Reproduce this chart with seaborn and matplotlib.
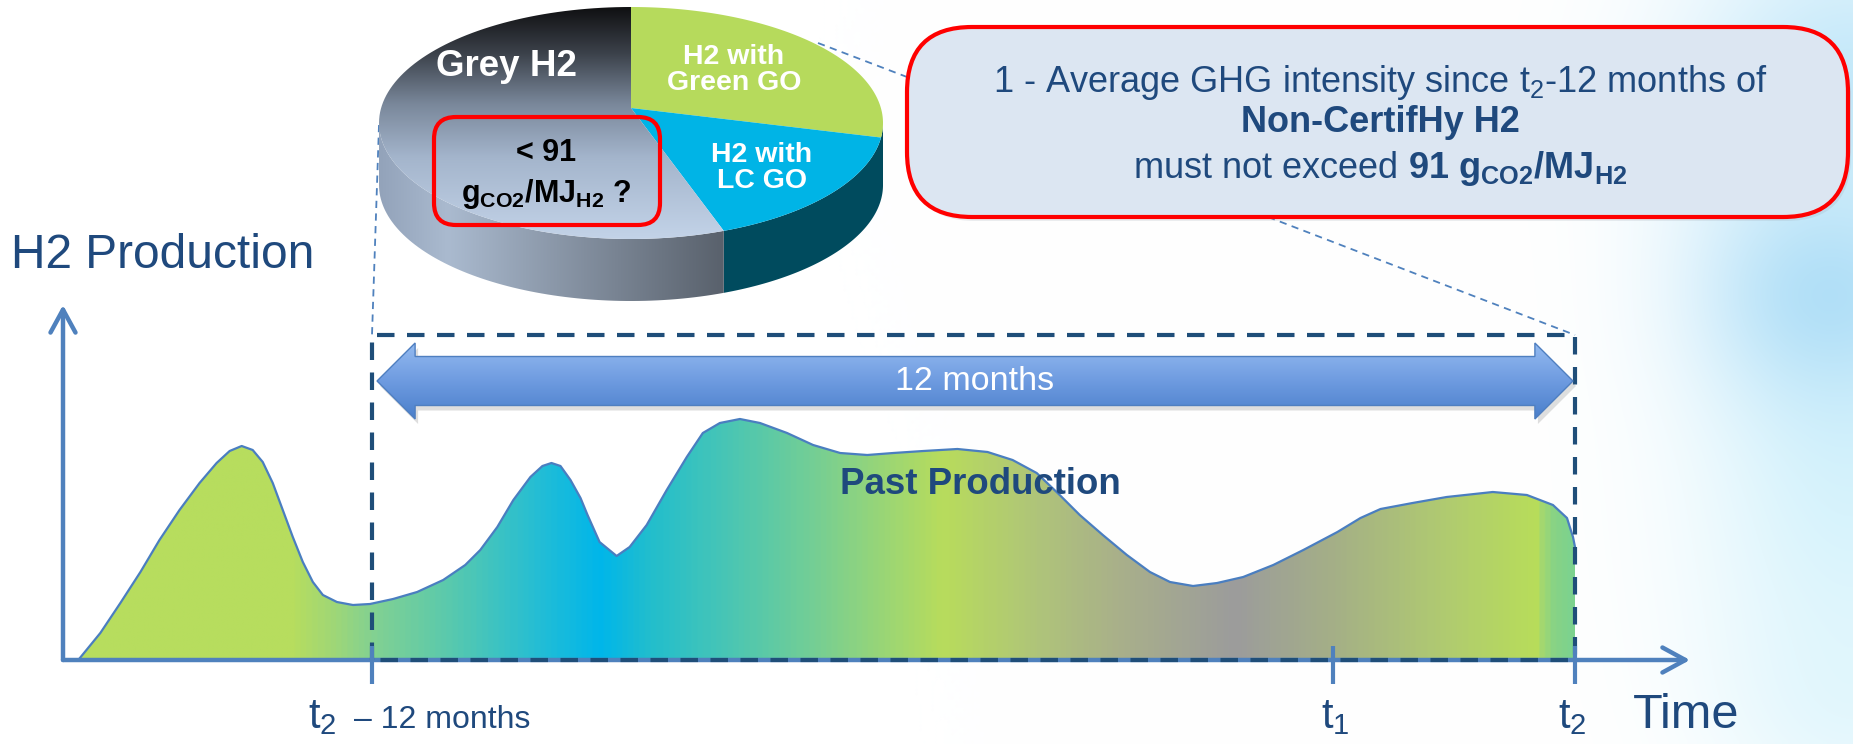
import numpy as np
import matplotlib
matplotlib.use("Agg")
import matplotlib.pyplot as plt
import seaborn as sns
from matplotlib.patches import Polygon, FancyBboxPatch
from matplotlib.colors import LinearSegmentedColormap, to_rgb

# ---------------------------------------------------------------- data
# production curve; months counted from (t2 - 12 months)
months = [-2.93, -2.71, -2.51, -2.31, -2.12, -1.92, -1.72, -1.55, -1.42, -1.30,
          -1.19, -1.09, -0.99, -0.89, -0.79, -0.69, -0.59, -0.49, -0.35, -0.19,
          -0.02, 0.21, 0.45, 0.71, 0.93, 1.08, 1.25, 1.41, 1.58, 1.70,
          1.79, 1.88, 1.98, 2.08, 2.15, 2.27, 2.44, 2.57, 2.74, 2.94,
          3.14, 3.30, 3.47, 3.67, 3.87, 4.14, 4.40, 4.67, 4.94, 5.20,
          5.50, 5.84, 6.14, 6.39, 6.63, 6.86, 7.06, 7.29, 7.53, 7.76,
          7.96, 8.19, 8.43, 8.69, 8.99, 9.29, 9.63, 9.86, 10.06, 10.38,
          10.72, 11.18, 11.52, 11.78, 11.92, 11.98, 12.00]
production = [0.00, 0.27, 0.57, 0.88, 1.20, 1.50, 1.77, 1.97, 2.09, 2.14,
              2.10, 1.98, 1.77, 1.50, 1.23, 0.98, 0.78, 0.65, 0.58, 0.55,
              0.56, 0.61, 0.68, 0.80, 0.95, 1.10, 1.33, 1.60, 1.83, 1.94,
              1.97, 1.94, 1.80, 1.62, 1.45, 1.18, 1.04, 1.13, 1.35, 1.70,
              2.03, 2.27, 2.37, 2.41, 2.37, 2.27, 2.15, 2.07, 2.05, 2.07,
              2.09, 2.11, 2.08, 2.00, 1.87, 1.65, 1.45, 1.25, 1.05, 0.88,
              0.78, 0.74, 0.77, 0.83, 0.95, 1.10, 1.28, 1.42, 1.51, 1.57,
              1.63, 1.68, 1.65, 1.55, 1.42, 1.23, 1.13]

tick_months = [0.0, 9.59, 12.0]
window_months = 12

# pie: shares in clockwise order starting at 12 o'clock
pie_labels = ["H2 with\nGreen GO", "H2 with\nLC GO", "Grey H2"]
pie_shares = [27, 17, 56]

NAVY = "#1F497D"
AXIS_BLUE = "#4F81BD"

# ---------------------------------------------------------------- style
sns.set_theme(style="white")
plt.rcParams["font.family"] = ["Liberation Sans", "DejaVu Sans"]
plt.rcParams["mathtext.fontset"] = "custom"
plt.rcParams["mathtext.rm"] = "Liberation Sans"
plt.rcParams["mathtext.it"] = "Liberation Sans:italic"
plt.rcParams["mathtext.bf"] = "Liberation Sans:bold"
plt.rcParams["mathtext.default"] = "regular"

W, H = 1853, 744
fig = plt.figure(figsize=(W / 100, H / 100), dpi=100)
fig.patch.set_facecolor("white")

# ---------------------------------------------------------------- background glow
ax_bg = fig.add_axes([0, 0, 1, 1])
ax_bg.set_axis_off()
yy, xx = np.mgrid[0:H:4, 0:W:4].astype(float)
bg = np.ones(xx.shape + (3,))


def glow(img, cx, cy, sx, sy, color, k):
    g = k * np.exp(-0.5 * (((xx - cx) / sx) ** 2 + ((yy - cy) / sy) ** 2))
    c = np.array(to_rgb(color))
    return img * (1 - g[..., None]) + c * g[..., None]


bg = glow(bg, 1853, 470, 110, 170, "#C9EFFB", 0.75)
bg = glow(bg, 1830, 290, 90, 80, "#A4D9F6", 0.8)
bg = glow(bg, 1853, 80, 120, 110, "#B3E2F8", 0.75)
bg = glow(bg, 1853, 700, 90, 80, "#D5F3FC", 0.5)
ax_bg.imshow(bg, extent=[0, W, H, 0], aspect="auto", interpolation="bilinear")
ax_bg.set_xlim(0, W)
ax_bg.set_ylim(H, 0)

# ---------------------------------------------------------------- chart axes
PX_MONTH, PX_UNIT = 100.25, 100.0
ORIGIN_PX, ZERO_PX = 372, 660
x0_px, x1_px, ytop_px = 63, 1690, 305
t_min = (x0_px - ORIGIN_PX) / PX_MONTH
t_max = (x1_px - ORIGIN_PX) / PX_MONTH
p_max = (ZERO_PX - ytop_px) / PX_UNIT
ax = fig.add_axes([x0_px / W, (H - ZERO_PX) / H, (x1_px - x0_px) / W, (ZERO_PX - ytop_px) / H])
ax.patch.set_alpha(0)
ax.set_axis_off()

# gradient fill under the production curve
fill_stops = [(-2.93, "#B7DD5E"), (-0.82, "#B7DD5E"), (-0.42, "#A0D776"), (0.0, "#82D192"),
              (0.78, "#58C9AE"), (1.68, "#22BDD6"), (2.27, "#00B6EA"), (2.77, "#22BECD"),
              (3.47, "#45C5B7"), (4.47, "#78CF92"), (5.70, "#B8DC5C"), (6.66, "#AFC47A"),
              (7.46, "#A9B08A"), (8.63, "#9C9C9C"), (9.56, "#A4AE88"), (10.75, "#B0CB70"),
              (11.66, "#B8DD5A"), (11.70, "#A5D86E"), (11.83, "#88D385"), (12.0, "#7DD28E")]
span = months[-1] - months[0]
fill_cmap = LinearSegmentedColormap.from_list(
    "prod", [((t - months[0]) / span, c) for t, c in fill_stops])
area = ax.fill_between(months, production, 0, facecolor="none", edgecolor="none")
im = ax.imshow(np.linspace(0, 1, 800)[None, :], extent=[months[0], months[-1], 0, max(production)],
               cmap=fill_cmap, aspect="auto", origin="lower", interpolation="bilinear", zorder=1)
im.set_clip_path(area.get_paths()[0], transform=ax.transData)
sns.lineplot(x=months, y=production, ax=ax, color="#4A7EC0", lw=1.6,
             estimator=None, sort=False, legend=False, zorder=2)

# axes arrows
arrow_kw = dict(arrowstyle="->,head_length=0.55,head_width=0.3", lw=3.2, color=AXIS_BLUE,
                mutation_scale=30, shrinkA=0, shrinkB=0)
ax.annotate("", xy=(t_max, 0), xytext=(t_min, 0), arrowprops=arrow_kw, annotation_clip=False, zorder=3)
ax.annotate("", xy=(t_min, p_max), xytext=(t_min, 0), arrowprops=arrow_kw, annotation_clip=False, zorder=3)

# tick marks
for t in tick_months:
    ax.plot([t, t], [0.14, -0.24], color=AXIS_BLUE, lw=3, clip_on=False,
            solid_capstyle="butt", zorder=5)

# 12-month dashed window
box_top = (ZERO_PX - 335) / PX_UNIT
ax.plot([0, 0, window_months, window_months, 0], [0, box_top, box_top, 0, 0],
        color="#1F4E79", lw=3, dashes=(4.2, 3.0), clip_on=False, zorder=4)

# double-headed "12 months" arrow with vertical gradient
bx0, bx1, by = 0.05, 11.98, (ZERO_PX - 381) / PX_UNIT
bh, hh, hl = 0.245, 0.38, 0.38
arrow_pts = [(bx0, by), (bx0 + hl, by + hh), (bx0 + hl, by + bh), (bx1 - hl, by + bh),
             (bx1 - hl, by + hh), (bx1, by), (bx1 - hl, by - hh), (bx1 - hl, by - bh),
             (bx0 + hl, by - bh), (bx0 + hl, by - hh)]
shadow = Polygon([(x + 0.03, y - 0.05) for x, y in arrow_pts], closed=True,
                 fc="#7F7F7F", ec="none", alpha=0.25, zorder=5)
ax.add_patch(shadow)
arrow_poly = Polygon(arrow_pts, closed=True, fc="none", ec="#4F7FC0", lw=1.0, zorder=7)
ax.add_patch(arrow_poly)
arrow_cmap = LinearSegmentedColormap.from_list("arr", ["#4A7FCB", "#6E9BE0", "#93BAF0"])
aim = ax.imshow(np.linspace(0, 1, 200)[:, None], extent=[bx0, bx1, by - hh, by + hh],
                cmap=arrow_cmap, aspect="auto", origin="lower", interpolation="bilinear", zorder=6)
aim.set_clip_path(arrow_poly)
ax.text((bx0 + bx1) / 2, by, "12 months", color="white", fontsize=24.5,
        ha="center", va="center", zorder=8)

ax.text(6.07, (ZERO_PX - 484) / PX_UNIT, "Past Production", color=NAVY, fontsize=26.4,
        fontweight="bold", ha="center", va="center", zorder=8)

ax.set_xlim(t_min, t_max)
ax.set_ylim(0, p_max)

# ---------------------------------------------------------------- overlay (pixel coordinates)
ov = fig.add_axes([0, 0, 1, 1])
ov.patch.set_alpha(0)
ov.set_axis_off()

ov.text(11, 268, "H2 Production", color=NAVY, fontsize=34.5, ha="left", va="baseline")
ov.text(1633, 728, "Time", color=NAVY, fontsize=35, ha="left", va="baseline")
ov.text(308, 728, "t$_2$", color=NAVY, fontsize=30, ha="left", va="baseline")
ov.text(354, 728, "\u2013 12 months", color=NAVY, fontsize=23, ha="left", va="baseline")
ov.text(1321, 728, "t$_1$", color=NAVY, fontsize=30, ha="left", va="baseline")
ov.text(1558, 728, "t$_2$", color=NAVY, fontsize=30, ha="left", va="baseline")

# thin dashed connectors
conn = dict(color=AXIS_BLUE, lw=1.3, dashes=(4, 3), zorder=1)
ov.plot([379, 372], [125, 335], **conn)
ov.plot([818, 907], [43, 77], **conn)
ov.plot([1268, 1575], [217, 335], **conn)

# 3-D pie
cx, cy, rx, ry, depth = 631, 123, 252, 116, 62
apex = (631, 108)


def ell(theta, dy=0.0):
    th = np.radians(theta)
    return np.column_stack([cx + rx * np.cos(th), cy - ry * np.sin(th) + dy])


bounds = 90 - np.concatenate([[0], np.cumsum(pie_shares)]) / sum(pie_shares) * 360
top_colors = ["#B6DA5C", "#00B4E6", None]
side_colors = ["#004A5C", "#004B5E", None]


def gradient_patch(axis, pts, colors, horizontal, z):
    poly = Polygon(pts, closed=True, fc="none", ec="none", zorder=z)
    axis.add_patch(poly)
    xs, ys = pts[:, 0], pts[:, 1]
    cmap = LinearSegmentedColormap.from_list("g", colors)
    arr = np.linspace(0, 1, 256)[None, :] if horizontal else np.linspace(0, 1, 256)[:, None]
    img = axis.imshow(arr, extent=[xs.min(), xs.max(), ys.max(), ys.min()], cmap=cmap,
                      aspect="auto", origin="upper", interpolation="bilinear", zorder=z)
    img.set_clip_path(poly)


for i in range(len(pie_shares)):
    a_start, a_end = bounds[i], bounds[i + 1]
    lo, hi = max(a_end, -180), min(a_start, 0)
    if hi > lo:
        th = np.linspace(hi, lo, 80)
        pts = np.vstack([ell(th), ell(th[::-1], depth)])
        if side_colors[i] is None:
            gradient_patch(ov, pts, [(0, "#93A3BA"), (0.2, "#AABACF"), (1, "#59616C")], True, 2)
        else:
            ov.add_patch(Polygon(pts, closed=True, fc=side_colors[i], ec="none", zorder=2))
    th = np.linspace(a_start, a_end, 120)
    pts = np.vstack([[apex], ell(th)])
    if top_colors[i] is None:
        gradient_patch(ov, pts, [(0, "#101012"), (0.2, "#3C424B"), (0.42, "#7A889B"),
                                 (0.65, "#A4B5CC"), (1, "#C3D3E8")], False, 3)
    else:
        ov.add_patch(Polygon(pts, closed=True, fc=top_colors[i], ec="none", zorder=3))

ov.text(506, 67, pie_labels[2], color="white", fontsize=26.5, fontweight="bold",
        ha="center", va="center", zorder=6)
ov.text(734, 70, pie_labels[0], color="white", fontsize=20.5, fontweight="bold",
        ha="center", va="center", linespacing=1.05, zorder=6)
ov.text(762, 168, pie_labels[1], color="white", fontsize=20.5, fontweight="bold",
        ha="center", va="center", linespacing=1.05, zorder=6)

ov.add_patch(FancyBboxPatch((434, 117), 226, 108, boxstyle="round,pad=0,rounding_size=22",
                            fc="none", ec="#FF0000", lw=3, zorder=6))
ov.text(546, 153, "< 91", color="black", fontsize=22, fontweight="bold",
        ha="center", va="center", zorder=7)
ov.text(546, 194, r"$\mathbf{g_{CO2}/MJ_{H2}}$ ?", color="black", fontsize=22,
        fontweight="bold", ha="center", va="center", zorder=7)

# callout box
ov.add_patch(FancyBboxPatch((910, 31), 941, 190, boxstyle="round,pad=0,rounding_size=65",
                            fc="#9AA4B0", ec="none", alpha=0.2, zorder=4))
ov.add_patch(FancyBboxPatch((907, 27), 941, 190, boxstyle="round,pad=0,rounding_size=65",
                            fc="#DCE6F2", ec="#FF0000", lw=3, zorder=5))
ov.text(1380, 83, "1 - Average GHG intensity since t$_2$-12 months of", color=NAVY,
        fontsize=26, ha="center", va="center", zorder=6)
ov.text(1380, 123, "Non-CertifHy H2", color=NAVY, fontsize=26, fontweight="bold",
        ha="center", va="center", zorder=6)
ov.text(1380, 169, r"must not exceed $\mathbf{91\ g_{CO2}/MJ_{H2}}$", color=NAVY,
        fontsize=26, ha="center", va="center", zorder=6)

ov.set_xlim(0, W)
ov.set_ylim(H, 0)

fig.savefig("out.png", dpi=100)
